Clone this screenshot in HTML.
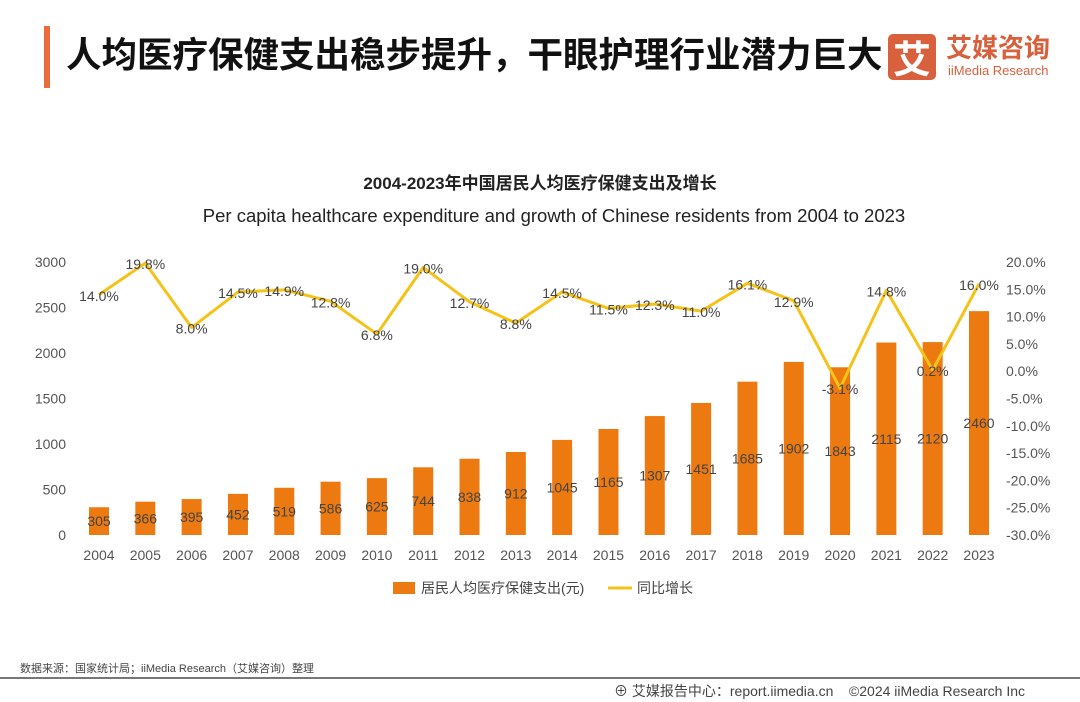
<!DOCTYPE html>
<html><head><meta charset="utf-8"><style>
body{margin:0;width:1080px;height:702px;background:#fff;overflow:hidden;font-family:"Liberation Sans","Noto Sans CJK SC",sans-serif;position:relative}
.abs{position:absolute}
</style></head><body>
<div class="abs" style="left:44px;top:26px;width:6px;height:62px;background:#ec6b3c"></div>
<div class="abs" style="left:66px;top:28px;font-size:35.5px;font-weight:bold;color:#111;font-family:'Noto Sans CJK SC',sans-serif;line-height:50px;white-space:nowrap">人均医疗保健支出稳步提升，干眼护理行业潜力巨大</div>
<div class="abs" style="left:888px;top:34px;width:48px;height:46px;background:#d9603c;border-radius:5px;color:#fff;font-size:38px;font-weight:bold;text-align:center;line-height:46px;font-family:'Noto Sans CJK SC',sans-serif">艾</div>
<div class="abs" style="left:946px;top:30px;color:#d9603c;font-size:26px;font-weight:bold;font-family:'Noto Sans CJK SC',sans-serif;line-height:34px">艾媒咨询</div>
<div class="abs" style="left:948px;top:63px;color:#d9603c;font-size:13px;">iiMedia Research</div>
<svg id="chart" class="abs" style="left:0;top:0" width="1080" height="702"></svg>
<div class="abs" style="left:20px;top:660px;font-size:11px;color:#444">数据来源：国家统计局；iiMedia Research（艾媒咨询）整理</div>
<div class="abs" style="left:0;top:677px;width:1080px;height:2px;background:#777"></div>
<div class="abs" style="left:614px;top:681px;font-size:14px;color:#444;white-space:nowrap">⊕ 艾媒报告中心：report.iimedia.cn &nbsp;&nbsp; ©2024 iiMedia Research Inc</div>
<script>
const years=["2004","2005","2006","2007","2008","2009","2010","2011","2012","2013","2014","2015","2016","2017","2018","2019","2020","2021","2022","2023"];
const spend=[305,366,395,452,519,586,625,744,838,912,1045,1165,1307,1451,1685,1902,1843,2115,2120,2460];
const growth=[14.0,19.8,8.0,14.5,14.9,12.8,6.8,19.0,12.7,8.8,14.5,11.5,12.3,11.0,16.1,12.9,-3.1,14.8,0.2,16.0];
const leftTicks=[0,500,1000,1500,2000,2500,3000];
const rightTicks=[20,15,10,5,0,-5,-10,-15,-20,-25,-30];
const svg=document.getElementById('chart');const NS='http://www.w3.org/2000/svg';
function el(t,a,txt){const e=document.createElementNS(NS,t);for(const k in a)e.setAttribute(k,a[k]);if(txt!==undefined)e.textContent=txt;svg.appendChild(e);return e;}
const y0=535,yTop=262;
const yL=v=>y0-(v/3000)*(y0-yTop);
const yR=v=>y0-((v+30)/50)*(y0-yTop);
const xC=i=>99+i*(979-99)/19;
let t=el('text',{x:540,y:189,'text-anchor':'middle','font-size':17,'font-weight':'bold',fill:'#222'},'2004-2023年中国居民人均医疗保健支出及增长');


t=el('text',{x:554,y:222,'text-anchor':'middle','font-size':18.5,fill:'#222'},'Per capita healthcare expenditure and growth of Chinese residents from 2004 to 2023');


leftTicks.forEach(v=>{const e=el('text',{x:66,y:yL(v)+5,'text-anchor':'end','font-size':14,fill:'#555'},v);

});
rightTicks.forEach(v=>{const e=el('text',{x:1006,y:yR(v)+5,'font-size':14,fill:'#555'},v.toFixed(1)+'%');

});
spend.forEach((v,i)=>{const b=el('rect',{x:xC(i)-10,y:yL(v),width:20,height:y0-yL(v),fill:'#ec7a10'});


const l=el('text',{x:xC(i),y:(yL(v)+y0)/2+5,'text-anchor':'middle','font-size':14,fill:'#444'},v);


const x=el('text',{x:xC(i),y:560,'text-anchor':'middle','font-size':14,fill:'#555'},years[i]);

});
const pl=el('polyline',{points:growth.map((g,i)=>xC(i)+','+yR(g)).join(' '),fill:'none',stroke:'#f5c218','stroke-width':3,'stroke-linejoin':'round'});


growth.forEach((g,i)=>{const l=el('text',{x:xC(i),y:yR(g)+6,'text-anchor':'middle','font-size':14,fill:'#444'},g.toFixed(1)+'%');

});
let lg=el('rect',{x:393,y:582,width:22,height:12,fill:'#ec7a10'});


lg=el('text',{x:421,y:593,'font-size':14,fill:'#444'},'居民人均医疗保健支出(元)');


lg=el('line',{x1:608,y1:588,x2:632,y2:588,stroke:'#f5c218','stroke-width':3});


lg=el('text',{x:637,y:593,'font-size':14,fill:'#444'},'同比增长');


</script>
</body></html>
